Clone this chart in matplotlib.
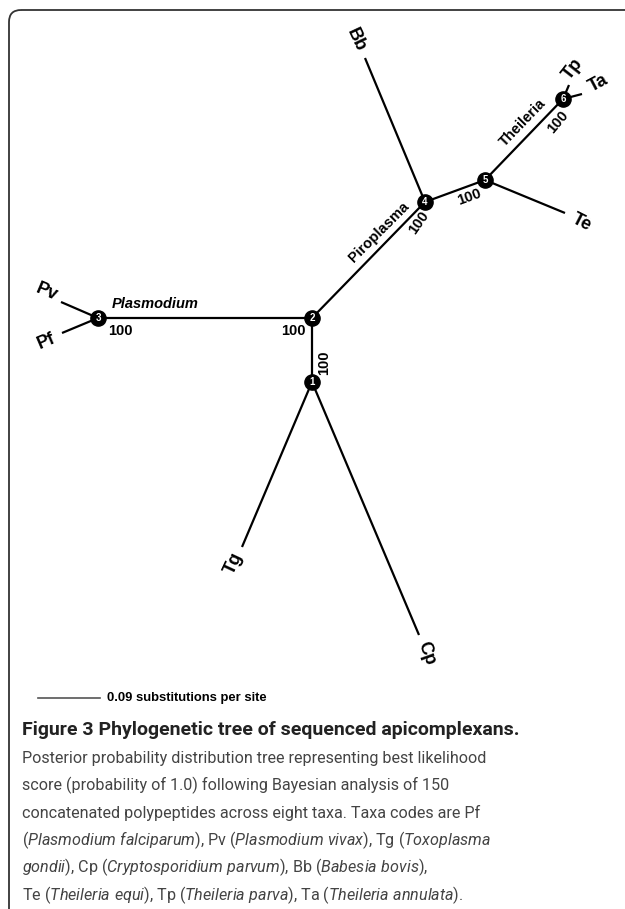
import matplotlib.pyplot as plt
from matplotlib.patches import FancyBboxPatch

# node positions of the unrooted tree (drawing units, y grows downward)
node_ids = [1, 2, 3, 4, 5, 6]
node_x = [312, 312, 98, 425, 485, 563]
node_y = [382, 318, 318, 202, 180, 99]

taxa = ['Pv', 'Pf', 'Bb', 'Te', 'Tp', 'Ta', 'Tg', 'Cp']
taxa_x = [61, 62, 365, 565, 569, 582, 242, 419]
taxa_y = [302, 333, 58, 213, 85, 94, 547, 635]

# branches: (from, to)
edges = [(1, 2), (2, 3), (2, 4), (4, 5), (5, 6),
         (3, 'Pv'), (3, 'Pf'), (4, 'Bb'), (5, 'Te'),
         (6, 'Tp'), (6, 'Ta'), (1, 'Tg'), (1, 'Cp')]

support = ['100', '100', '100', '100', '100', '100']
clades = ['Plasmodium', 'Piroplasma', 'Theileria']

scale_label = '0.09 substitutions per site'
caption_title = 'Figure 3 Phylogenetic tree of sequenced apicomplexans.'
caption_lines = [
    'Posterior probability distribution tree representing best likelihood',
    'score (probability of 1.0) following Bayesian analysis of 150',
    'concatenated polypeptides across eight taxa. Taxa codes are Pf',
    '($\\it{Plasmodium\\ falciparum}$), Pv ($\\it{Plasmodium\\ vivax}$), Tg ($\\it{Toxoplasma}$',
    '$\\it{gondii}$), Cp ($\\it{Cryptosporidium\\ parvum}$), Bb ($\\it{Babesia\\ bovis}$),',
    'Te ($\\it{Theileria\\ equi}$), Tp ($\\it{Theileria\\ parva}$), Ta ($\\it{Theileria\\ annulata}$).',
]

plt.rcParams['mathtext.fontset'] = 'custom'
plt.rcParams['mathtext.it'] = 'Roboto:italic'
plt.rcParams['mathtext.rm'] = 'Roboto'

pos = {n: (x, y) for n, x, y in zip(node_ids, node_x, node_y)}
pos.update({t: (x, y) for t, x, y in zip(taxa, taxa_x, taxa_y)})

fig = plt.figure(figsize=(6.25, 9.09), dpi=100)
ax = fig.add_axes([0, 0, 1, 1])
ax.set_xlim(0, 625)
ax.set_ylim(909, 0)
ax.axis('off')

# outer rounded frame (cut by the image edge on right and bottom)
frame = FancyBboxPatch((9, 10), 700, 1000, boxstyle='round,pad=0,rounding_size=12',
                       fill=False, ec='#333333', lw=1.3)
ax.add_patch(frame)

for a, b in edges:
    ax.plot([pos[a][0], pos[b][0]], [pos[a][1], pos[b][1]], color='black', lw=1.6,
            solid_capstyle='butt', zorder=2)

ax.scatter(node_x, node_y, s=120, color='black', zorder=3)
for n, x, y in zip(node_ids, node_x, node_y):
    ax.text(x, y, str(n), color='white', fontsize=7, fontweight='bold',
            ha='center', va='center', family='Liberation Sans', zorder=4)

lab = dict(fontsize=13, fontweight='bold', family='Liberation Sans', ha='center', va='center')
taxa_offset = {'Pv': (47, 292, -23), 'Pf': (46, 341, 23), 'Bb': (356, 40, -65),
               'Te': (582, 222, -27), 'Tp': (573, 69, 52), 'Ta': (598, 83, 28),
               'Tg': (234, 563, 65), 'Cp': (426, 653, -70)}
for t in taxa:
    x, y, r = taxa_offset[t]
    ax.text(x, y, t, rotation=r, rotation_mode='anchor', **lab)

sup = dict(fontsize=10.5, fontweight='bold', family='Liberation Sans', ha='center', va='center')
sup_pos = [(120, 331, 0), (293, 331, 0), (324, 363, 90), (419, 223, 55),
           (469, 197, 20), (558, 122, 50)]
for s, (x, y, r) in zip(support, sup_pos):
    ax.text(x, y, s, rotation=r, rotation_mode='anchor', **sup)

clade_pos = [(155, 304, 0, 'italic'), (379, 232, 45, 'normal'), (523, 123, 46, 'normal')]
for c, (x, y, r, st) in zip(clades, clade_pos):
    ax.text(x, y, c, rotation=r, rotation_mode='anchor', style=st, **sup)

# scale bar
ax.plot([38, 100], [698, 698], color='#555555', lw=1.2)
ax.text(107, 698, scale_label, fontsize=9.4, fontweight='bold', family='Liberation Sans',
        ha='left', va='center')

ax.text(22, 730, caption_title, fontsize=14, fontweight='bold', family='Roboto',
        color='#222222', ha='left', va='center')
for i, line in enumerate(caption_lines):
    ax.text(22, 758 + i * 27.4, line, fontsize=11.6, family='Roboto', color='#444444',
            ha='left', va='center')

fig.savefig('out.png', dpi=100)
